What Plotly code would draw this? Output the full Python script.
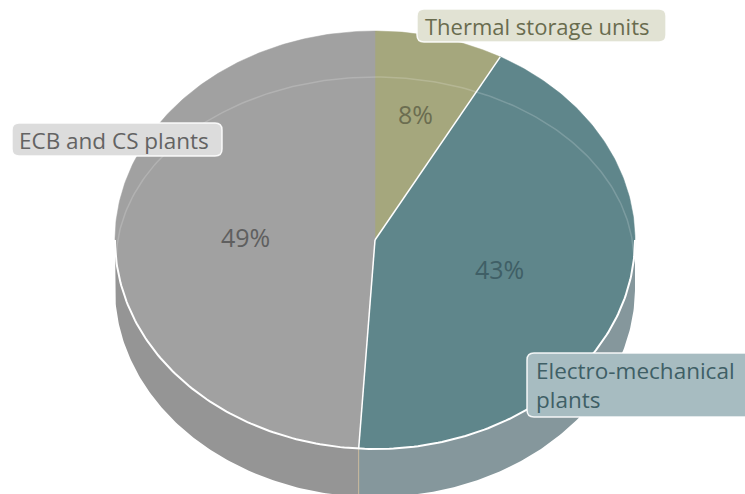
import numpy as np
import plotly.graph_objects as go

# ---- data ----
categories = ["Thermal storage units", "Electro-mechanical plants", "ECB and CS plants"]
values = [8, 43, 49]
pct_labels = ["8%", "43%", "49%"]
label_texts = ["Thermal storage units", "Electro-mechanical<br>plants", "ECB and CS plants"]

# ---- style ----
top_colors = ["#a5a77d", "#5f868b", "#a1a1a1"]
side_colors = ["#9c9e76", "#85979c", "#959595"]
pct_colors = ["#6b6d50", "#3f5f66", "#5f5f5f"]
box_fill = ["#e1e2d3", "#a7bcc1", "#dcdcdc"]
box_text = ["#696c4e", "#3f5f66", "#636363"]
pct_radius = [0.62, 0.5, 0.5]

W, H = 745, 494
CX, CY, RX, RY, DEPTH = 375, 240, 260, 209, 48
FONT = "Open Sans"


def ell(theta_deg, cy=CY, rx=RX, ry=RY):
    t = np.radians(theta_deg)
    return CX + rx * np.sin(t), cy - ry * np.cos(t)


fig = go.Figure()

total = float(sum(values))
bounds = np.concatenate([[0], np.cumsum(values)]) / total * 360.0

# side walls (front half: theta in [90, 270])
for i in range(len(values)):
    a0, a1 = max(bounds[i], 90), min(bounds[i + 1], 270)
    if a1 <= a0:
        continue
    th = np.linspace(a0, a1, 120)
    x1, y1 = ell(th)
    x2, y2 = ell(th[::-1], cy=CY + DEPTH)
    fig.add_trace(go.Scatter(x=np.concatenate([x1, x2]), y=np.concatenate([y1, y2]),
                             fill="toself", fillcolor=side_colors[i], mode="lines",
                             line=dict(width=0, color=side_colors[i]), hoverinfo="skip", showlegend=False))

# wall separator at slice boundaries on the front
for b in bounds[1:-1]:
    if 90 < b < 270:
        xa, ya = ell(b)
        xb, yb = ell(b, cy=CY + DEPTH)
        fig.add_trace(go.Scatter(x=[xa, xb], y=[ya, yb], mode="lines",
                                 line=dict(color="#c9b79a", width=1), hoverinfo="skip",
                                 showlegend=False))

# top faces
for i in range(len(values)):
    th = np.linspace(bounds[i], bounds[i + 1], 200)
    x, y = ell(th)
    fig.add_trace(go.Scatter(x=np.concatenate([[CX], x, [CX]]), y=np.concatenate([[CY], y, [CY]]),
                             fill="toself", fillcolor=top_colors[i], mode="lines",
                             line=dict(color=top_colors[i], width=0.5), hoverinfo="skip",
                             name=categories[i], showlegend=False))

# radial separators (inner boundaries)
for b in bounds[1:-1]:
    xe, ye = ell(b)
    fig.add_trace(go.Scatter(x=[CX, xe], y=[CY, ye], mode="lines",
                             line=dict(color="white", width=1.5), hoverinfo="skip", showlegend=False))

# faint highlight ring on upper half, white edge on lower half
th = np.linspace(-90, 90, 200)
x, y = ell(th, cy=262, rx=259, ry=185)
fig.add_trace(go.Scatter(x=x, y=y, mode="lines", line=dict(color="rgba(255,255,255,0.18)", width=1.5),
                         hoverinfo="skip", showlegend=False))
th = np.linspace(90, 270, 200)
x, y = ell(th)
fig.add_trace(go.Scatter(x=x, y=y, mode="lines", line=dict(color="white", width=2),
                         hoverinfo="skip", showlegend=False))

# percentage labels
for i in range(len(values)):
    mid = (bounds[i] + bounds[i + 1]) / 2
    t = np.radians(mid)
    px = CX + pct_radius[i] * RX * np.sin(t)
    py = CY - pct_radius[i] * RY * np.cos(t)
    fig.add_annotation(x=px, y=py, text=pct_labels[i], showarrow=False,
                       font=dict(family=FONT, size=25, color=pct_colors[i]))


def rrect(x0, y0, x1, y1, r=7):
    return (f"M{x0+r},{y0} L{x1-r},{y0} Q{x1},{y0} {x1},{y0+r} L{x1},{y1-r} Q{x1},{y1} {x1-r},{y1} "
            f"L{x0+r},{y1} Q{x0},{y1} {x0},{y1-r} L{x0},{y0+r} Q{x0},{y0} {x0+r},{y0} Z")


boxes = [(417, 9, 666, 42), (527, 353, 765, 417), (12, 123, 222, 156)]
text_pos = [(423, 26), (534, 385), (17, 140)]
sizes = [22, 22.5, 22.5]
for i in range(len(values)):
    x0, y0, x1, y1 = boxes[i]
    fig.add_shape(type="path", path=rrect(x0, y0, x1, y1), xref="x", yref="y",
                  fillcolor=box_fill[i], line=dict(color="rgba(255,255,255,0.9)", width=1.5))
    fig.add_annotation(x=text_pos[i][0], y=text_pos[i][1], text=label_texts[i], showarrow=False,
                       xanchor="left", yanchor="middle", align="left",
                       font=dict(family=FONT, size=sizes[i], color=box_text[i]))

fig.update_xaxes(range=[0, W], visible=False, fixedrange=True)
fig.update_yaxes(range=[H, 0], visible=False, fixedrange=True)
fig.update_layout(width=W, height=H, margin=dict(l=0, r=0, t=0, b=0),
                  paper_bgcolor="white", plot_bgcolor="white")
fig.write_html("out.html")
